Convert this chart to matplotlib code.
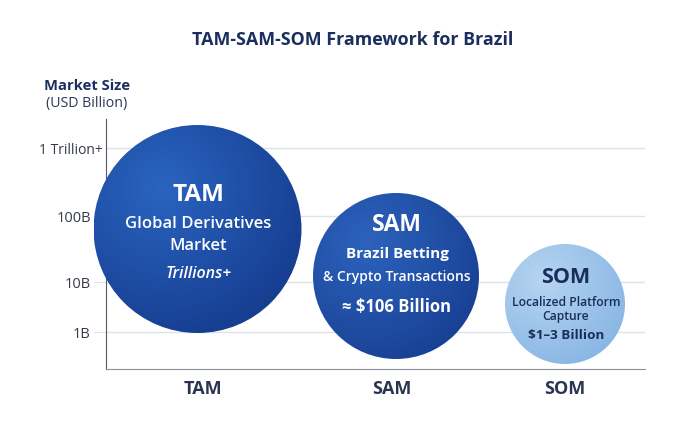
import numpy as np
import matplotlib
matplotlib.use("Agg")
import matplotlib.pyplot as plt
import matplotlib.transforms as mtransforms
from matplotlib.patches import Circle
from matplotlib.colors import to_rgb

plt.rcParams['font.family'] = ['Open Sans', 'DejaVu Sans']

# --- data ---
categories = ["TAM", "SAM", "SOM"]
x_pos      = [91.5, 290, 459]        # bubble centre along x (axis units)
label_x    = [97, 286, 459]          # category label positions
y_level    = [140, 93, 65]           # bubble centre on the size axis
radius     = [104, 83, 60]
tick_pos   = [37, 87, 153, 221]
tick_lbls  = ["1B", "10B", "100B", "1 Trillion+"]

inner = [
    [("TAM", 17.5, "bold", "normal"), ("Global Derivatives", 12, "semibold", "normal"),
     ("Market", 12, "semibold", "normal"), ("Trillions+", 11.5, "semibold", "italic")],
    [("SAM", 16.5, "bold", "normal"), ("Brazil Betting", 11, "bold", "normal"),
     ("& Crypto Transactions", 10, "semibold", "normal"), ("≈ $106 Billion", 12, "bold", "normal")],
    [("SOM", 15.5, "bold", "normal"), ("Localized Platform", 8.7, "semibold", "normal"),
     ("Capture", 8.7, "semibold", "normal"), ("$1–3 Billion", 9.7, "bold", "normal")],
]
inner_dy = [[34, 5, -17, -45], [51, 22, -1, -31], [27, 2, -12, -31]]
fills = [("#2a64c0", "#143a8c"), ("#2d63bd", "#173e91"), ("#b6d5f1", "#86b4e3")]
txt_col = ["white", "white", "#1a2e5c"]

NAVY = "#1b2f5e"

fig = plt.figure(figsize=(6.99, 4.23), dpi=100)
W, H = 699, 423
PAD = 26  # room left of the y axis so the TAM bubble is not cut
ax = fig.add_axes([(106 - PAD) / W, (H - 369) / H, (539 + PAD) / W, 250 / H])
ax.set_xlim(-PAD, 539)
ax.set_ylim(0, 250)

ax.hlines(tick_pos, 0, 539, color="#dde1e8", lw=1, zorder=0)

ax.spines["left"].set_position(("data", 0))
ax.spines["bottom"].set_bounds(0, 539)
ax.set_yticks(tick_pos)
ax.set_yticklabels(tick_lbls, fontsize=10.5, color="#333a48")
ax.tick_params(axis="y", length=9, color="#dde1e8", pad=2)
ax.yaxis.get_major_ticks()[-1].tick1line.set_visible(False)
top_lbl = ax.get_yticklabels()[-1]
top_lbl.set_fontsize(10)
top_lbl.set_transform(top_lbl.get_transform() +
                      mtransforms.ScaledTranslation(12 / 100, 0, fig.dpi_scale_trans))

ax.set_xticks(label_x)
ax.set_xticklabels(categories, fontsize=13, fontweight="bold", color="#2a3550")
ax.tick_params(axis="x", length=0, pad=8)
for s in ["top", "right"]:
    ax.spines[s].set_visible(False)
ax.spines["left"].set_color("#555b66")
ax.spines["bottom"].set_color("#8a8f99")

# radial gradient bubbles, drawn over the axis line
yy, xx = np.mgrid[-1:1:300j, -1:1:300j]
for i in range(3):
    cx, cy, r = x_pos[i], y_level[i], radius[i]
    c1, c2 = np.array(to_rgb(fills[i][0])), np.array(to_rgb(fills[i][1]))
    d = np.clip(np.sqrt((xx + 0.35) ** 2 + (yy - 0.4) ** 2) / 1.65, 0, 1)
    img = c1[None, None, :] * (1 - d[..., None]) + c2[None, None, :] * d[..., None]
    circ = Circle((cx, cy), r, transform=ax.transData, facecolor="none",
                  edgecolor="none")
    ax.add_patch(circ)
    im = ax.imshow(img, extent=[cx - r, cx + r, cy - r, cy + r], origin="lower",
                   zorder=3, interpolation="bilinear")
    im.set_clip_path(circ)
    for (t, fs, fw, st), dy in zip(inner[i], inner_dy[i]):
        ax.text(cx + 1, cy + dy, t, ha="center", va="center", fontsize=fs,
                fontweight=fw, style=st, color=txt_col[i], zorder=4)

ax.set_aspect("auto")
ax.set_xlim(-PAD, 539)
ax.set_ylim(0, 250)

fig.text(353 / W, 1 - 40 / H, "TAM-SAM-SOM Framework for Brazil", ha="center",
         va="center", fontsize=12.9, fontweight="bold", color=NAVY)
fig.text(87 / W, 1 - 86 / H, "Market Size", ha="center", va="center",
         fontsize=10.6, fontweight="bold", color=NAVY)
fig.text(87 / W, 1 - 103 / H, "(USD Billion)", ha="center", va="center",
         fontsize=10.2, color="#2a3550")

fig.savefig("out.png", dpi=100, facecolor="white")
